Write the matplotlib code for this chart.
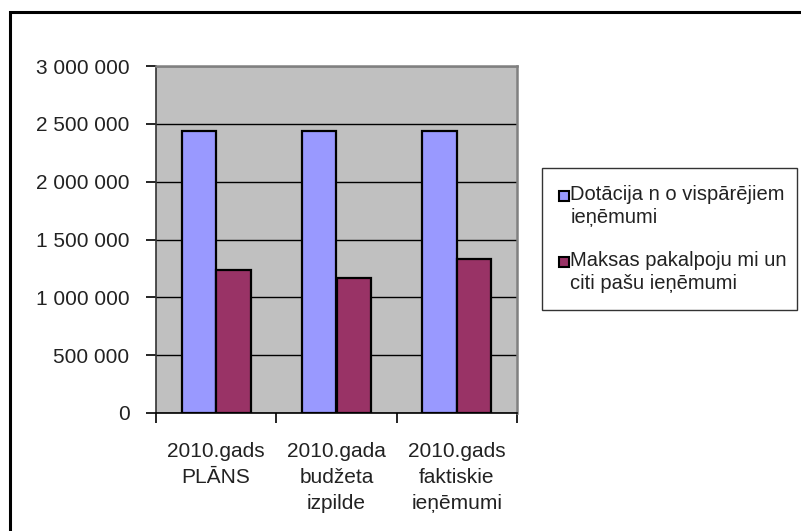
import numpy as np
import matplotlib
matplotlib.use('Agg')
import matplotlib.pyplot as plt
from matplotlib.patches import Patch, Rectangle
from matplotlib.legend_handler import HandlerPatch
from matplotlib.ticker import FuncFormatter, FixedLocator

plt.rcParams['font.family'] = ['Liberation Sans', 'DejaVu Sans']

# data
categories = ['2010.gads\nPLĀNS', '2010.gada\nbudžeta\nizpilde', '2010.gads\nfaktiskie\nieņēmumi']
series_names = ['Dotācija n o vispārējiem\nieņēmumi', 'Maksas pakalpoju mi un\nciti pašu ieņēmumi']
dotacija = [2440000, 2440000, 2440000]
maksas = [1238000, 1170000, 1328000]
colors = ['#9999FF', '#993366']

fig = plt.figure(figsize=(8.01, 5.31), dpi=100)

# outer chart border (left and top visible)
fig.patches.append(Rectangle((9.5 / 801, -0.1), 1.0, 1.1 - 12.5 / 531,
                             transform=fig.transFigure, fill=False,
                             edgecolor='black', linewidth=2.2, zorder=0))

ax = fig.add_axes([156 / 801, 1 - 413 / 531, 361 / 801, 347 / 531])
ax.set_facecolor('#C0C0C0')

x = np.arange(len(categories))
w = 1 / 3.5
ax.bar(x - w / 2, dotacija, w, color=colors[0], edgecolor='black', linewidth=1.6, zorder=3)
ax.bar(x + w / 2, maksas, w, color=colors[1], edgecolor='black', linewidth=1.6, zorder=3)

ax.set_xlim(-0.5, len(categories) - 0.5)
ax.set_ylim(0, 3000000)
ax.set_yticks(np.arange(0, 3000001, 500000))
ax.yaxis.set_major_formatter(FuncFormatter(lambda v, p: f'{int(v):,}'.replace(',', ' ')))
ax.grid(axis='y', color='black', linewidth=1.0, zorder=1)
ax.set_axisbelow(True)

# category labels between boundary ticks
ax.xaxis.set_major_locator(FixedLocator(np.arange(-0.5, len(categories), 1.0)))
ax.xaxis.set_major_formatter(FuncFormatter(lambda v, p: ''))
ax.xaxis.set_minor_locator(FixedLocator(x))
ax.set_xticklabels(categories, minor=True)
ax.tick_params(axis='x', which='minor', length=0, pad=21, labelsize=15)
ax.tick_params(axis='x', which='major', length=7, width=1.2, direction='out')
ax.tick_params(axis='y', length=7, width=1.2, pad=12, labelsize=15)
for lbl in ax.get_xticklabels(minor=True):
    lbl.set_linespacing(1.45)
    lbl.set_color('#222222')
for lbl in ax.get_yticklabels():
    lbl.set_color('#222222')

for side in ['top', 'right']:
    ax.spines[side].set_color('#808080')
    ax.spines[side].set_linewidth(1.8)
ax.spines['left'].set_color('#333333')
ax.spines['bottom'].set_color('black')
ax.spines['left'].set_linewidth(1.2)
ax.spines['bottom'].set_linewidth(1.2)


# legend squares sit next to the first line of each two-line label
def top_square(legend, orig_handle, xdescent, ydescent, width, height, fontsize):
    s = width
    return Rectangle((-xdescent, -ydescent + height - s - 0.02 * fontsize), s, s)


handles = [Patch(facecolor=c, edgecolor='black', linewidth=1.5) for c in colors]
leg = fig.legend(handles, series_names, loc='upper left',
                 bbox_to_anchor=(542 / 801, 1 - 313 / 531, 255 / 801, 145 / 531),
                 mode='expand', fontsize=14.5, frameon=True, fancybox=False,
                 edgecolor='black', handlelength=0.5, handleheight=2.2,
                 handletextpad=0.05, labelspacing=1.2, borderpad=0.85,
                 borderaxespad=0,
                 handler_map={Patch: HandlerPatch(patch_func=top_square)})
leg.get_frame().set_linewidth(1.0)
for t in leg.get_texts():
    t.set_linespacing(1.25)
    t.set_color('#222222')

fig.savefig('out.png', dpi=100)
